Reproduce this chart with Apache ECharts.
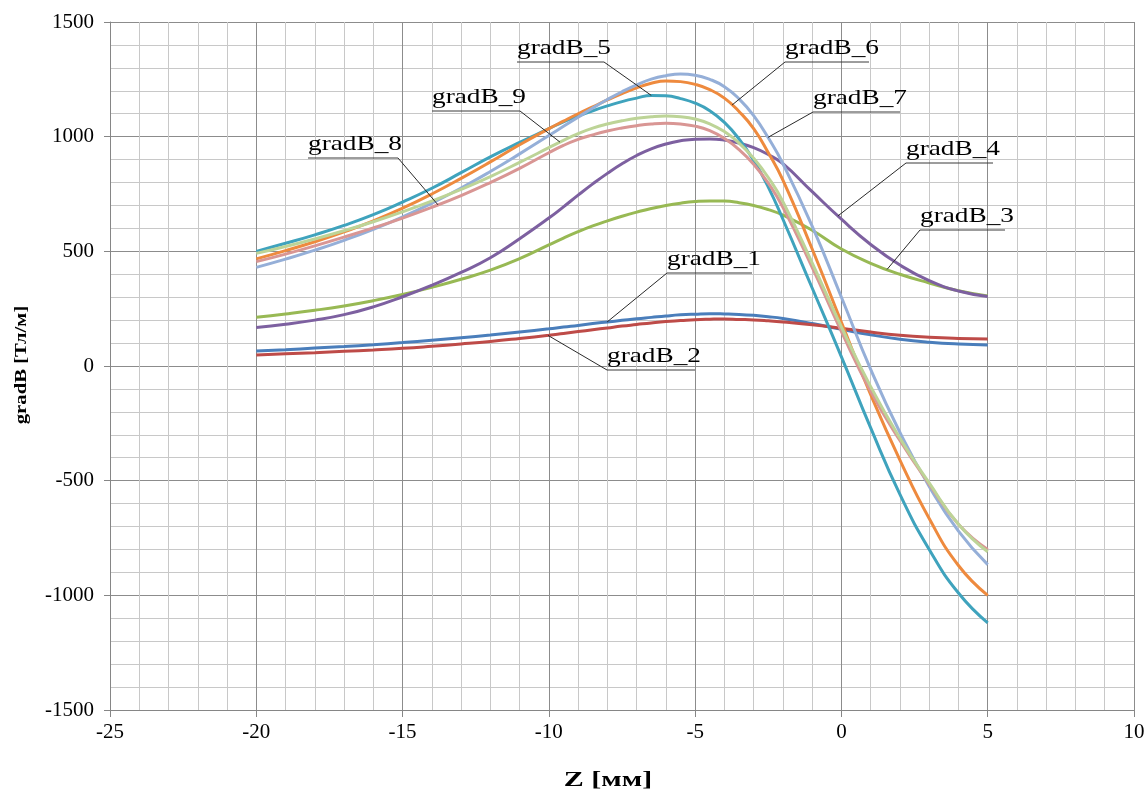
<!DOCTYPE html>
<html><head><meta charset="utf-8">
<script src="https://cdn.jsdelivr.net/npm/echarts@6/dist/echarts.min.js"></script>
<style>html,body{margin:0;padding:0;background:#fff}#c{width:1148px;height:796px}</style>
</head><body><div id="c"></div>
<script>
// ---- data ----
const zValues = [-20,-19,-18,-17,-16,-15,-14,-13,-12,-11,-10,-9.5,-9,-8.5,-8,-7.5,-7,-6.5,-6,-5.5,-5,-4.5,-4,-3.5,-3,-2.5,-2,-1,0,1,2,3,4,5];
const gradB_1 = [65,71,78,85,93,102,112,123,135,148,162,170,177,185,192,199,206,212,218,223,226,228,227,225,221,215,207,185,160,136,117,104,96,92];
const gradB_2 = [48,53,58,64,70,77,86,96,107,120,134,142,150,158,166,174,181,188,194,198,202,204,205,203,201,197,192,180,165,148,134,125,120,118];
const gradB_3 = [213,227,243,262,285,312,343,378,418,468,528,558,586,611,633,653,671,687,700,710,717,720,719,712,700,682,658,592,510,448,400,362,328,305];
const gradB_4 = [168,182,200,224,258,302,352,408,472,555,645,694,745,794,840,882,918,947,968,982,989,990,985,972,952,922,882,760,640,530,440,372,327,303];
const gradB_5 = [500,535,572,613,660,715,775,843,912,975,1035,1065,1090,1113,1134,1153,1168,1180,1178,1166,1146,1113,1062,990,897,780,640,340,40,-270,-560,-800,-990,-1120];
const gradB_6 = [467,503,542,585,633,688,750,818,890,965,1035,1068,1100,1130,1160,1188,1213,1233,1243,1240,1228,1205,1168,1110,1035,930,810,510,190,-125,-410,-665,-870,-1000];
const gradB_7 = [430,466,505,548,596,650,710,776,848,925,1005,1045,1085,1125,1162,1196,1226,1251,1266,1273,1268,1250,1218,1165,1092,995,882,610,300,-15,-290,-525,-720,-866];
const gradB_8 = [455,488,524,562,602,645,692,743,800,862,930,962,988,1008,1025,1038,1048,1055,1058,1055,1046,1026,992,944,880,797,692,430,150,-110,-325,-515,-690,-800];
const gradB_9 = [491,521,554,590,629,672,719,770,826,888,952,984,1013,1037,1055,1069,1080,1087,1090,1087,1077,1056,1022,972,906,822,717,450,170,-90,-315,-510,-690,-810];
const seriesNames = ['gradB_1','gradB_2','gradB_3','gradB_4','gradB_5','gradB_6','gradB_7','gradB_8','gradB_9'];
const seriesValues = [gradB_1,gradB_2,gradB_3,gradB_4,gradB_5,gradB_6,gradB_7,gradB_8,gradB_9];
const xTickValues = [-25,-20,-15,-10,-5,0,5,10];
const yTickValues = [-1500,-1000,-500,0,500,1000,1500];
const xAxisTitle = 'Z [мм]';
const yAxisTitle = 'gradB [Тл/м]';
// annotation: series name, z of the point the leader touches
const labelSeries = ['gradB_5','gradB_9','gradB_8','gradB_6','gradB_7','gradB_4','gradB_3','gradB_1','gradB_2'];
const labelAnchorZ = [-6.5,-9.62,-13.79,-3.74,-2.51,-0.12,1.56,-8.01,-10.03];

// ---- styles / layout ----
const colors = ['#4A7EBB','#BE4B48','#98B954','#7D60A0','#3FA3BD','#EE8A3E','#95AFD8','#D99694','#BDD497'];
const labelBoxes = { // pixel layout of the callouts: left x, underline y, underline width, leader side
  gradB_5:{x:517,y:62,w:87,side:'r'}, gradB_9:{x:432,y:111,w:88,side:'r'}, gradB_8:{x:308,y:158,w:90,side:'r'},
  gradB_6:{x:785,y:62,w:84,side:'l'}, gradB_7:{x:813,y:112,w:87,side:'l'}, gradB_4:{x:906,y:163,w:87,side:'l'},
  gradB_3:{x:920,y:230,w:85,side:'l'}, gradB_1:{x:667,y:273,w:85,side:'l'}, gradB_2:{x:607,y:370,w:88,side:'l'}
};
const serif = '"Liberation Serif","Times New Roman",serif';

const chart = echarts.init(document.getElementById('c'), null, {renderer:'canvas'});
const series = seriesNames.map((n,i)=>({
  name:n, type:'line', smooth:0.5, showSymbol:false, symbol:'none',
  data: zValues.map((z,k)=>[z, seriesValues[i][k]]),
  lineStyle:{color:colors[i], width:3}, itemStyle:{color:colors[i]}, z: 3+i
}));
chart.setOption({
  animation:false,
  backgroundColor:'#fff',
  grid:{left:110,right:14,top:22,bottom:86},
  xAxis:{type:'value', min:-25, max:10, interval:5,
    axisLine:{show:true,onZero:false,lineStyle:{color:'#868686',width:1}},
    axisTick:{show:true,length:7,lineStyle:{color:'#868686'}},
    minorTick:{show:false,splitNumber:5},
    axisLabel:{color:'#000',fontFamily:serif,fontSize:21,margin:12,
      formatter:v=>xTickValues.includes(v)?String(v):''},
    splitLine:{show:true,lineStyle:{color:'#8C8C8C',width:1}},
    minorSplitLine:{show:true,lineStyle:{color:'#C8C8C8',width:1}}
  },
  yAxis:{type:'value', min:-1500, max:1500, interval:500,
    axisLine:{show:true,onZero:false,lineStyle:{color:'#868686',width:1}},
    axisTick:{show:true,length:6,lineStyle:{color:'#868686'}},
    minorTick:{show:false,splitNumber:5},
    axisLabel:{color:'#000',fontFamily:serif,fontSize:21,margin:16,
      formatter:v=>yTickValues.includes(v)?String(v):''},
    splitLine:{show:true,lineStyle:{color:'#8C8C8C',width:1}},
    minorSplitLine:{show:true,lineStyle:{color:'#C8C8C8',width:1}}
  },
  series: series
});

function valueAt(arr, z){
  for(let k=0;k<zValues.length-1;k++){
    if(z>=zValues[k] && z<=zValues[k+1]){
      const t=(z-zValues[k])/(zValues[k+1]-zValues[k]);
      return arr[k]+(arr[k+1]-arr[k])*t;
    }
  }
  return arr[arr.length-1];
}
const graphics = [];
labelSeries.forEach((n,i)=>{
  const arr = seriesValues[seriesNames.indexOf(n)];
  const z = labelAnchorZ[i];
  const p = chart.convertToPixel({xAxisIndex:0,yAxisIndex:0},[z, valueAt(arr,z)]);
  const b = labelBoxes[n];
  const ex = b.side==='r' ? b.x+b.w : b.x;
  graphics.push({type:'line', z:100, shape:{x1:b.x,y1:b.y,x2:b.x+b.w,y2:b.y}, style:{stroke:'#3a3a3a',lineWidth:1}});
  graphics.push({type:'line', z:100, shape:{x1:ex,y1:b.y,x2:p[0],y2:p[1]}, style:{stroke:'#2a2a2a',lineWidth:1}});
  graphics.push({type:'text', z:101, x:b.x, y:b.y-14, scaleX:1.3, scaleY:1,
    style:{text:n, x:0, y:0, font:'21px '+serif, fill:'#000', textAlign:'left', textVerticalAlign:'middle'}});
});
// axis titles
graphics.push({type:'text', z:101, x:608, y:781, scaleX:1.5, scaleY:1,
  style:{text:xAxisTitle, x:0, y:0, font:'bold 20px '+serif, fill:'#000', textAlign:'center', textVerticalAlign:'middle'}});
graphics.push({type:'text', z:101, x:22, y:365, rotation:Math.PI/2, scaleX:1.22, scaleY:1,
  style:{text:yAxisTitle, x:0, y:0, font:'bold 17px '+serif, fill:'#000', textAlign:'center', textVerticalAlign:'middle'}});
chart.setOption({graphic:{elements:graphics}});
</script></body></html>
